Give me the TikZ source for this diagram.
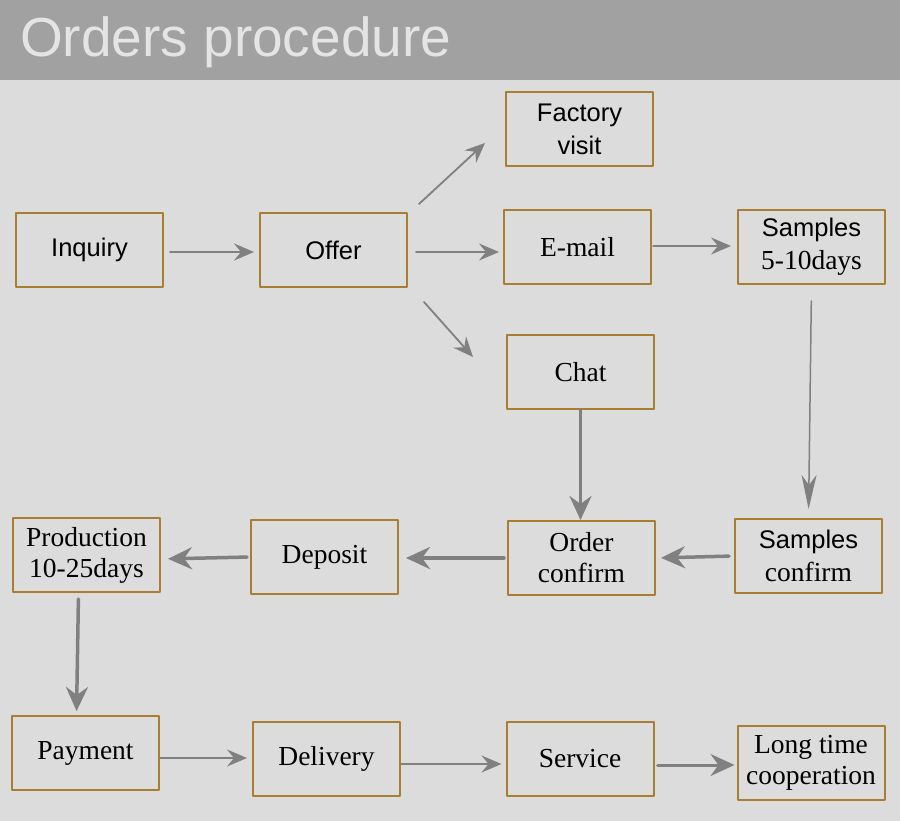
\documentclass[tikz,border=0pt]{standalone}
\usepackage{fontspec}
\setmainfont{Liberation Serif}
\newfontfamily\sansfont{Liberation Sans}
\usetikzlibrary{arrows.meta,calc}
\definecolor{bggray}{RGB}{220,220,220}
\definecolor{headgray}{RGB}{161,161,161}
\definecolor{titlegray}{RGB}{228,228,228}
\definecolor{boxline}{RGB}{168,126,48}
\definecolor{flowgray}{RGB}{128,128,128}
\begin{document}
\begin{tikzpicture}[x=1pt, y=-1pt, line cap=round, line join=round, >={Stealth[length=20pt, width=17pt, inset=7pt]}]
			\tikzset{stage/.style={draw=boxline, line width=2pt, minimum width=147pt, minimum height=74pt, inner sep=0pt, align=center, font=\fontsize{27.5}{31}\selectfont},
				sansstage/.style={stage, font=\sansfont\fontsize{25.5}{33}\selectfont},
				flow/.style={->, draw=flowgray, line width=1.8pt},
				boldflow/.style={flow, line width=3.5pt, >={Stealth[length=24pt, width=22pt, inset=8pt]}}}
			\fill[bggray] (0,0) rectangle (900,821);
			\fill[headgray] (0,0) rectangle (900,80);
			\useasboundingbox (0,0) rectangle (900,821);
			\node[anchor=base west, inner sep=0pt, text=titlegray, font=\sansfont\fontsize{55}{60}\selectfont] (title) at (20,57) {Orders procedure};
			% first row
			\node[sansstage] (inquiry) at (89.5,250) {Inquiry};
			\node[sansstage] (offer) at (333.5,250) {Offer};
			\node[sansstage] (factory) at (579.5,129) {Factory\\visit};
			\node[stage] (email) at (577.5,247) {E-mail};
			\node[sansstage] (samples) at (811.5,247) {Samples\\\rmfamily\fontsize{27.5}{31}\selectfont 5-10days};
			\node[stage] (chat) at (580.5,372) {Chat};
			% second row
			\node[sansstage] (sconfirm) at (808.5,556) {Samples\\\rmfamily\fontsize{27.5}{31}\selectfont confirm};
			\node[stage] (order) at (581.5,558) {Order\\confirm};
			\node[stage] (deposit) at (324.5,557) {Deposit};
			\node[stage] (production) at (86.5,555) {Production\\10-25days};
			% third row
			\node[stage] (payment) at (85.5,753) {Payment};
			\node[stage] (delivery) at (326.5,759) {Delivery};
			\node[stage] (service) at (580,758.5) {Service};
			\node[stage] (longtime) at (811,762.5) {Long time\\cooperation};
			% arrows
			\draw[flow, shorten <=6pt, shorten >=5pt] ([yshift=-2pt]inquiry.east) -- ([yshift=-2pt]offer.west);
			\draw[flow] ($(offer.north east)+(11,-8)$) -- ($(factory.south west)+(-20,-24)$);
			\draw[flow, shorten <=8pt, shorten >=4pt] ([yshift=-2pt]offer.east) -- ([yshift=-5pt]email.west);
			\draw[flow] ($(offer.south east)+(16,14)$) -- ($(chat.west)+(-33,-15)$);
			\draw[flow, line width=1.5pt, shorten <=1pt, shorten >=6pt] ([yshift=1pt]email.east) -- ([yshift=1pt]samples.west);
			\draw[flow, line width=1.5pt, shorten <=16pt, shorten >=9pt, >={Stealth[length=34pt, width=15pt, inset=10pt]}] (samples.south) -- (sconfirm.north);
			\draw[boldflow] (chat.south) -- (chat.south |- order.north);
			\draw[boldflow, shorten <=5pt, shorten >=5pt] (sconfirm.west) -- ([yshift=-2pt]sconfirm.west -| order.east);
			\draw[boldflow, shorten <=3pt, shorten >=7pt] (order.west) -- (order.west -| deposit.east);
			\draw[boldflow, shorten <=3pt, shorten >=7pt] (deposit.west) -- ([yshift=-2pt]deposit.west -| production.east);
			\draw[boldflow, shorten <=6pt, shorten >=4pt] ([xshift=-8pt]production.south) -- ([xshift=-9pt]payment.north);
			\draw[flow, line width=2.5pt, shorten >=5pt] ([yshift=-5pt]payment.east) -- ([yshift=-5pt]payment.east -| delivery.west);
			\draw[flow, line width=2pt, shorten >=4pt] ([yshift=-5pt]delivery.east) -- ([yshift=-5pt]delivery.east -| service.west);
			\draw[boldflow, line width=3pt, shorten <=3pt, shorten >=2pt] ([yshift=-6.5pt]service.east) -- ([yshift=-2.5pt]longtime.west);
		\end{tikzpicture}
\end{document}
